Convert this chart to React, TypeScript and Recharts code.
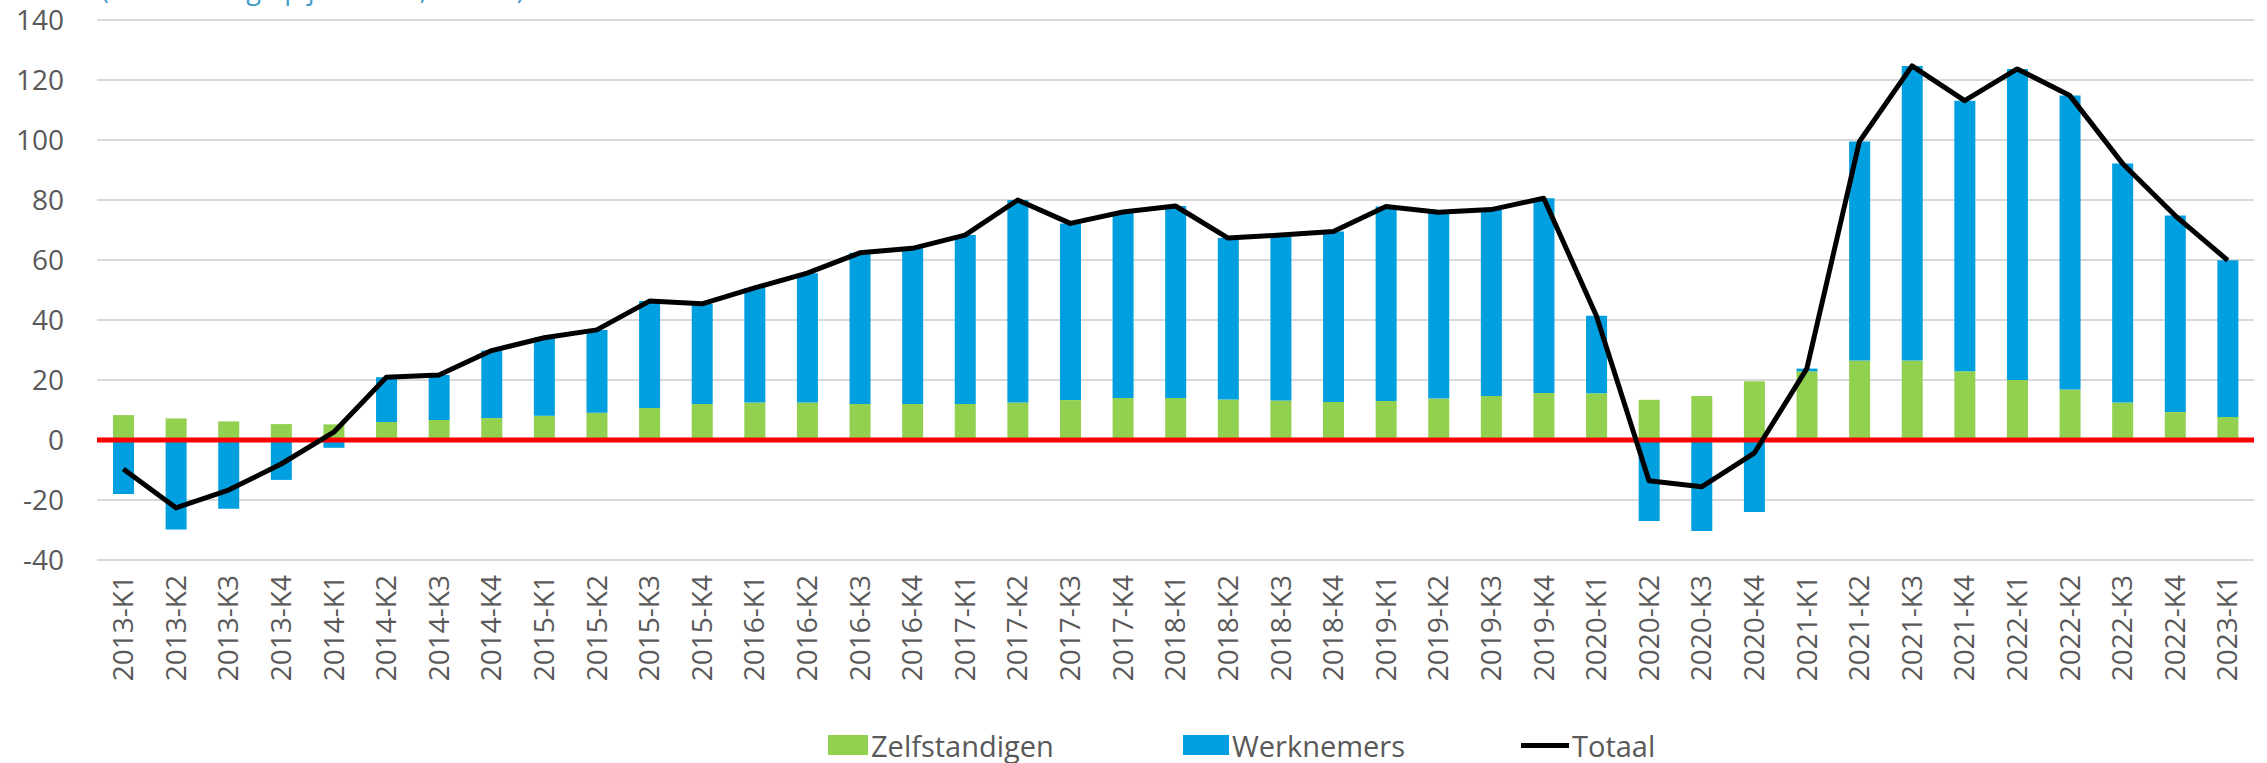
import React from 'react'
import {
  ComposedChart, Bar, Line, XAxis, YAxis, CartesianGrid, Legend, ReferenceLine,
} from 'recharts'

const kwartalen = [
  '2013-K1', '2013-K2', '2013-K3', '2013-K4',
  '2014-K1', '2014-K2', '2014-K3', '2014-K4',
  '2015-K1', '2015-K2', '2015-K3', '2015-K4',
  '2016-K1', '2016-K2', '2016-K3', '2016-K4',
  '2017-K1', '2017-K2', '2017-K3', '2017-K4',
  '2018-K1', '2018-K2', '2018-K3', '2018-K4',
  '2019-K1', '2019-K2', '2019-K3', '2019-K4',
  '2020-K1', '2020-K2', '2020-K3', '2020-K4',
  '2021-K1', '2021-K2', '2021-K3', '2021-K4',
  '2022-K1', '2022-K2', '2022-K3', '2022-K4',
  '2023-K1',
]

const zelfstandigen = [
  8.3, 7.2, 6.2, 5.3,
  5.2, 6.0, 6.7, 7.3,
  8.1, 9.1, 10.7, 12.0,
  12.5, 12.5, 12.0, 12.0,
  12.0, 12.5, 13.3, 14.0,
  14.0, 13.5, 13.2, 12.7,
  13.0, 13.8, 14.7, 15.7,
  15.6, 13.4, 14.7, 19.6,
  22.9, 26.5, 26.5, 22.9,
  20.0, 16.8, 12.5, 9.3,
  7.7,
]

const werknemers = [
  -18.0, -29.8, -22.9, -13.3,
  -2.6, 14.9, 15.0, 22.5,
  26.0, 27.6, 35.6, 33.4,
  38.2, 43.1, 50.4, 51.9,
  56.3, 67.5, 58.9, 62.0,
  64.0, 53.8, 55.1, 56.8,
  64.8, 62.1, 62.1, 64.9,
  25.8, -27.0, -30.3, -24.0,
  0.9, 73.0, 98.2, 90.2,
  103.7, 98.0, 79.7, 65.5,
  52.2,
]

const totaal = [
  -9.7, -22.6, -16.7, -8.0,
  2.6, 20.9, 21.7, 29.8,
  34.1, 36.7, 46.3, 45.4,
  50.7, 55.6, 62.4, 63.9,
  68.3, 80.0, 72.2, 76.0,
  78.0, 67.3, 68.3, 69.5,
  77.8, 75.9, 76.8, 80.6,
  41.4, -13.6, -15.6, -4.4,
  23.8, 99.5, 124.7, 113.1,
  123.7, 114.8, 92.2, 74.8,
  59.9,
]

const yTicks = [-40, -20, 0, 20, 40, 60, 80, 100, 120, 140]

const data = kwartalen.map((k, i) => ({
  kwartaal: k,
  Zelfstandigen: zelfstandigen[i],
  Werknemers: werknemers[i],
  Totaal: totaal[i],
}))

const FONT = '"Open Sans", "Noto Sans", sans-serif'
const GREEN = '#92D050'
const BLUE = '#009FDF'

function KwartaalTick({ x, y, payload }: any) {
  return (
    <text
      x={x}
      y={y}
      transform={`rotate(-90, ${x}, ${y})`}
      textAnchor="end"
      dy="0.35em"
      fill="#595959"
      fontSize={28}
      fontFamily={FONT}
    >
      {payload.value}
    </text>
  )
}

function LegendContent() {
  const item = (w: number, icon: React.ReactNode, label: string) => (
    <div style={{ width: w, display: 'flex', alignItems: 'center' }}>
      {icon}
      <span style={{ marginLeft: 3 }}>{label}</span>
    </div>
  )
  return (
    <div
      style={{
        height: 36, display: 'flex', alignItems: 'center', paddingLeft: 828,
        fontFamily: FONT, fontSize: 29, color: '#595959',
      }}
    >
      {item(355, <div style={{ width: 40, height: 20, background: GREEN }} />, 'Zelfstandigen')}
      {item(338, <div style={{ width: 46, height: 20, background: BLUE }} />, 'Werknemers')}
      {item(200, <div style={{ width: 48, height: 5, background: '#000' }} />, 'Totaal')}
    </div>
  )
}

export default function App() {
  return (
    <div style={{ position: 'absolute', left: 0, top: 0, width: 2267, height: 763, overflow: 'hidden', background: '#fff' }}>
      <div
        style={{
          position: 'absolute', left: 101, top: -25, fontFamily: FONT, fontSize: 27,
          lineHeight: '28px', color: '#3F9DC4', whiteSpace: 'nowrap',
        }}
      >
        (verandering op jaarbasis, x 1000)
      </div>
      <ComposedChart
        width={2267}
        height={763}
        data={data}
        stackOffset="sign"
        margin={{ top: 20, right: 13, bottom: 0, left: 0 }}
      >
        <CartesianGrid vertical={false} stroke="#D9D9D9" strokeWidth={2} />
        <XAxis
          dataKey="kwartaal"
          interval={0}
          height={167}
          axisLine={false}
          tickLine={false}
          tickSize={0}
          tickMargin={15}
          tick={<KwartaalTick />}
        />
        <YAxis
          domain={[-40, 140]}
          ticks={yTicks}
          width={97}
          axisLine={false}
          tickLine={false}
          tickSize={0}
          tickMargin={33}
          tick={{ fill: '#595959', fontSize: 28, fontFamily: FONT }}
        />
        <Legend verticalAlign="bottom" content={<LegendContent />} />
        <Bar dataKey="Zelfstandigen" stackId="a" fill={GREEN} barSize={21} isAnimationActive={false} />
        <Bar dataKey="Werknemers" stackId="a" fill={BLUE} barSize={21} isAnimationActive={false} />
        <ReferenceLine y={0} stroke="#FF0000" strokeWidth={5} />
        <Line
          dataKey="Totaal"
          stroke="#000000"
          strokeWidth={5}
          dot={false}
          strokeLinejoin="round"
          isAnimationActive={false}
        />
      </ComposedChart>
    </div>
  )
}
